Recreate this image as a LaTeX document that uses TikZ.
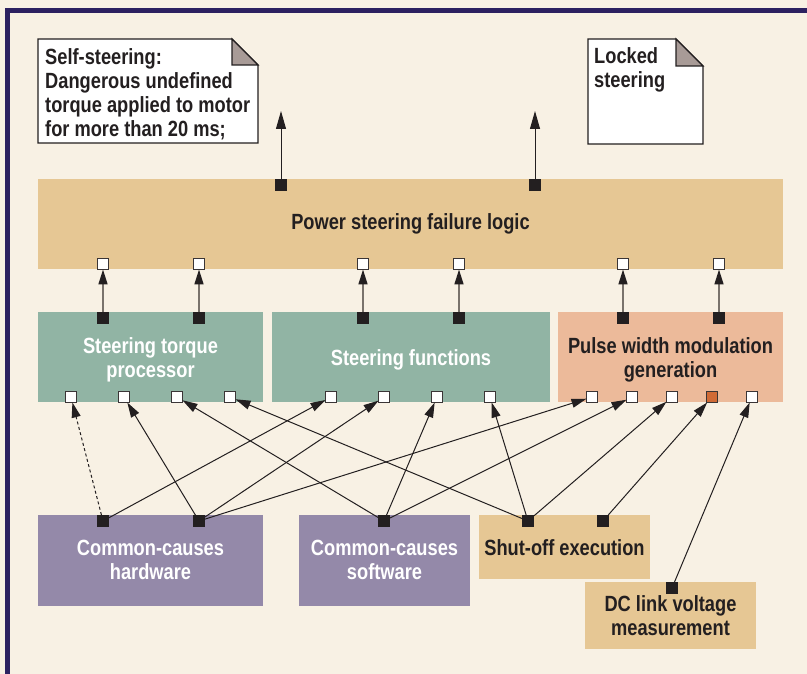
\documentclass[tikz,border=0pt]{standalone}
\usepackage{fontspec}
\setmainfont{Liberation Sans}[FakeStretch=0.83]
\usetikzlibrary{arrows.meta}
\definecolor{bgc}{HTML}{F8F1E4}
\definecolor{tan}{HTML}{E6C794}
\definecolor{greenb}{HTML}{91B4A4}
\definecolor{salmon}{HTML}{ECBA9A}
\definecolor{purpleb}{HTML}{9489A9}
\definecolor{frame}{HTML}{2C2160}
\definecolor{ink}{HTML}{231F20}
\definecolor{foldc}{HTML}{A89B97}
\definecolor{sqedge}{HTML}{3A3536}
\definecolor{vgray}{HTML}{7A736C}
\definecolor{orangesq}{HTML}{D06A35}
\begin{document}
\begin{tikzpicture}[x=1pt,y=-1pt,
  box/.style={inner sep=0pt, outer sep=0pt, draw=none},
  lbl/.style={font=\bfseries\fontsize{22}{24}\selectfont, inner sep=0pt, anchor=base, text=ink},
  nlbl/.style={lbl, anchor=base west},
  wsq/.style={draw=sqedge, fill=white, line width=1.4pt, minimum size=11pt, inner sep=0pt, outer sep=0pt},
  osq/.style={wsq, fill=orangesq},
  bsq/.style={fill=ink, minimum size=12pt, inner sep=0pt, outer sep=0pt},
  conn/.style={draw=ink, line width=1pt, -{Triangle[length=15pt,width=9pt]}},
  dconn/.style={conn, dash pattern=on 3pt off 2.5pt},
  vconn/.style={draw=vgray, line width=1.6pt, -{Triangle[length=15pt,width=9pt,color=ink]}},
  tconn/.style={draw=ink, line width=1pt, -{Triangle[length=18pt,width=10pt]}},
  note/.style={fill=white, draw=ink, line width=1.2pt, line join=miter},
  fold/.style={fill=foldc, draw=ink, line width=1.2pt, line join=miter}
]
\useasboundingbox (0,0) rectangle (807,674);
\fill[bgc] (0,0) rectangle (807,674);
\fill[frame] (5,8) rectangle (807,13);
\fill[frame] (5,8) rectangle (9.5,674);

% notes
\path[note] (38,39) -- (232,39) -- (258,65) -- (258,143) -- (38,143) -- cycle;
\path[fold] (232,39) -- (258,65) -- (232,65) -- cycle;
\node[nlbl] (n1a) at (45,64.5) {Self-steering:};
\node[nlbl] (n1b) at (45,88.5) {Dangerous undefined};
\node[nlbl] (n1c) at (45,112.5) {torque applied to motor};
\node[nlbl] (n1d) at (45,136.5) {for more than 20 ms;};

\path[note] (588,39) -- (676,39) -- (703,66) -- (703,144) -- (588,144) -- cycle;
\path[fold] (676,39) -- (703,66) -- (676,66) -- cycle;
\node[nlbl] (n2a) at (594,64) {Locked};
\node[nlbl] (n2b) at (594,88) {steering};

% boxes
\node[box, fill=tan, minimum width=745pt, minimum height=90pt] (psfl) at (410.5,224) {};
\node[lbl] (psfl-l) at (410.5,229.5) {Power steering failure logic};

\node[box, fill=greenb, minimum width=225pt, minimum height=90pt] (stp) at (150.5,357) {};
\node[lbl, text=white] (stp-l1) at (150.5,353.5) {Steering torque};
\node[lbl, text=white] (stp-l2) at (150.5,377.5) {processor};

\node[box, fill=greenb, minimum width=278pt, minimum height=90pt] (sf) at (411,357) {};
\node[lbl, text=white] (sf-l) at (411,365.5) {Steering functions};

\node[box, fill=salmon, minimum width=225pt, minimum height=90pt] (pwm) at (670.5,357) {};
\node[lbl] (pwm-l1) at (670.5,353.5) {Pulse width modulation};
\node[lbl] (pwm-l2) at (670.5,377.5) {generation};

\node[box, fill=purpleb, minimum width=225pt, minimum height=91pt] (hw) at (150.5,560.5) {};
\node[lbl, text=white] (hw-l1) at (150.5,555.5) {Common-causes};
\node[lbl, text=white] (hw-l2) at (150.5,579.5) {hardware};

\node[box, fill=purpleb, minimum width=171pt, minimum height=91pt] (swb) at (384.5,560.5) {};
\node[lbl, text=white] (sw-l1) at (384.5,555.5) {Common-causes};
\node[lbl, text=white] (sw-l2) at (384.5,579.5) {software};

\node[box, fill=tan, minimum width=171pt, minimum height=64pt] (so) at (564.5,547) {};
\node[lbl] (so-l) at (564.5,555) {Shut-off execution};

\node[box, fill=tan, minimum width=171pt, minimum height=67pt] (dcb) at (670.5,615.5) {};
\node[lbl] (dc-l1) at (670.5,611.5) {DC link voltage};
\node[lbl] (dc-l2) at (670.5,635.5) {measurement};

% ports on power steering failure logic
\node[bsq] (pt1) at (281,185) {};
\node[bsq] (pt2) at (535,185) {};
\foreach \i/\x in {1/103,2/199,3/363,4/459,5/623,6/719}
  \node[wsq] (p\i) at (\x,264) {};

% ports on middle boxes
\foreach \i/\x in {1/103,2/199,3/363,4/459,5/623,6/719}
  \node[bsq] (g\i) at (\x,318) {};
\foreach \i/\x in {1/71,2/124,3/177,4/230,5/331,6/384,7/437,8/490,9/592,10/632,11/672,13/752}
  \node[wsq] (w\i) at (\x,397) {};
\node[osq] (w12) at (712,397) {};

% ports on bottom boxes
\node[bsq] (h1) at (103,521) {};
\node[bsq] (h2) at (199,521) {};
\node[bsq] (s1) at (384,521) {};
\node[bsq] (o1) at (528,521) {};
\node[bsq] (o2) at (603,521) {};
\node[bsq] (d1) at (672,588) {};

% top arrows
\coordinate (t1) at (281,111);
\coordinate (t2) at (535,111);
\draw[tconn] (pt1) -- (t1);
\draw[tconn] (pt2) -- (t2);

% vertical arrows
\foreach \i in {1,...,6}
  \draw[vconn] (g\i) -- (p\i);

% diagonal connectors
\draw[dconn] (h1) -- (w1);
\draw[conn] (h1) -- (w5);
\draw[conn] (h2) -- (w2);
\draw[conn] (h2) -- (w6);
\draw[conn] (h2) -- (w9);
\draw[conn] (s1) -- (w3);
\draw[conn] (s1) -- (w7);
\draw[conn] (s1) -- (w10);
\draw[conn] (o1) -- (w4);
\draw[conn] (o1) -- (w8);
\draw[conn] (o1) -- (w11);
\draw[conn] (o2) -- (w12);
\draw[conn] (d1) -- (w13);
\end{tikzpicture}
\end{document}
